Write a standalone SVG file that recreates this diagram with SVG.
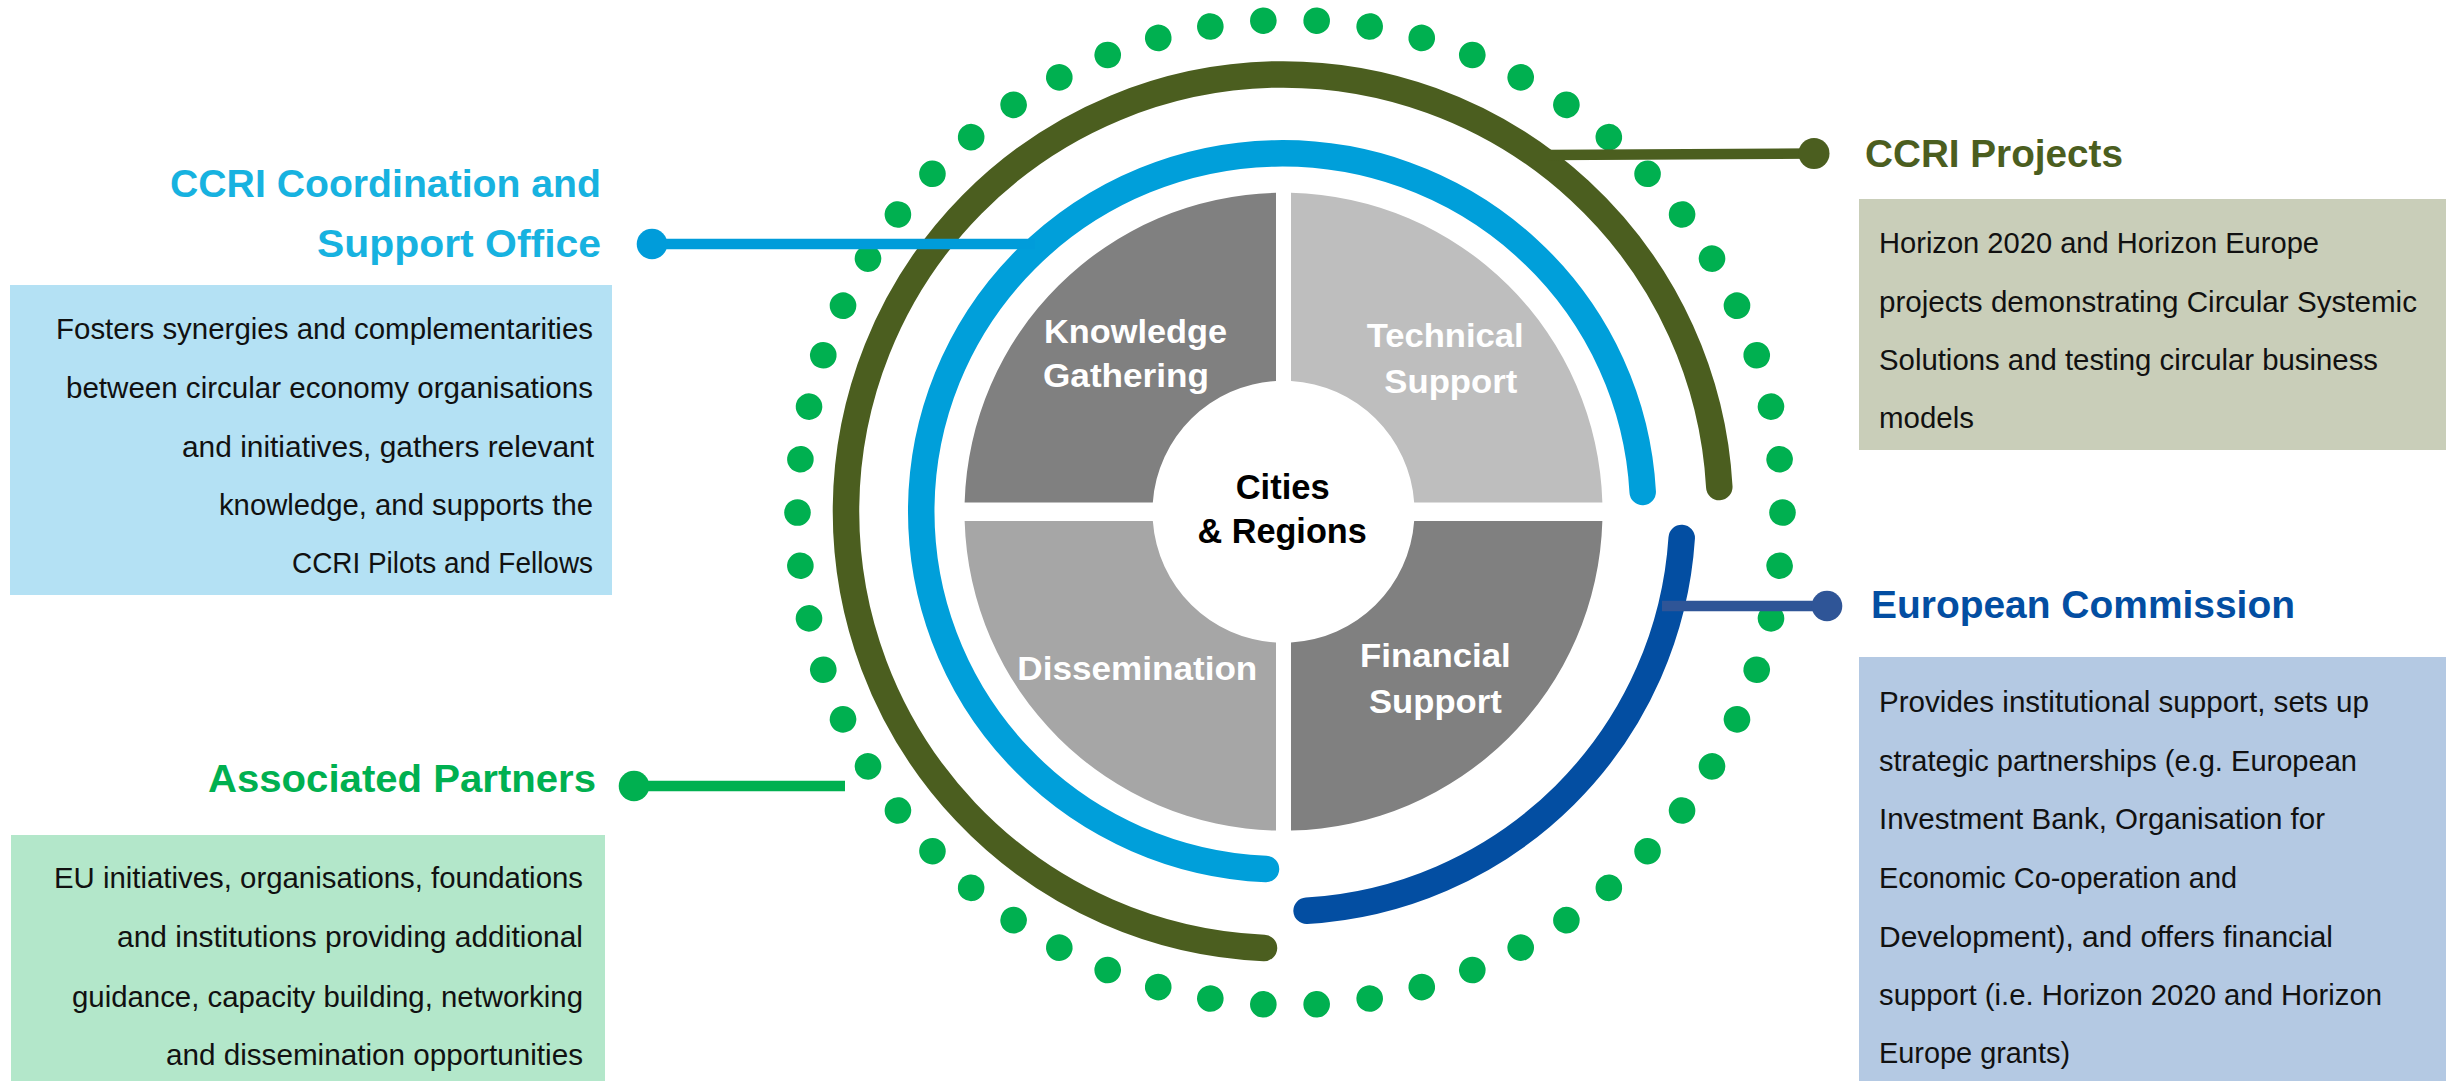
<svg xmlns="http://www.w3.org/2000/svg" xmlns:xlink="http://www.w3.org/1999/xlink" width="2446" height="1081" viewBox="0 0 2446 1081">
<style>
  .body { font-family: "Liberation Sans", Arial, sans-serif; font-size: 29px; fill: #111111; }
  .head { font-family: "Liberation Sans", Arial, sans-serif; font-size: 38px; font-weight: bold; }
  .ql { font-family: "Liberation Sans", Arial, sans-serif; font-size: 34px; font-weight: bold; fill: #ffffff; }
  .ctr { font-family: "Liberation Sans", Arial, sans-serif; font-size: 35px; font-weight: bold; fill: #000000; }
  .ring { fill: none; stroke-linecap: round; stroke-width: 26.5; }
  .conn { stroke-width: 10.5; stroke-linecap: butt; fill: none; }
</style>
<defs>
  <circle id="dot" cx="1782.5" cy="512.5" r="13.3" fill="#00B050"/>
</defs>
<rect x="0" y="0" width="2446" height="1081" fill="#ffffff"/>

<g id="dot-ring">
  <use href="#dot" transform="rotate(0 1290 512.5)"/>
  <use href="#dot" transform="rotate(6.2069 1290 512.5)"/>
  <use href="#dot" transform="rotate(12.4138 1290 512.5)"/>
  <use href="#dot" transform="rotate(18.6207 1290 512.5)"/>
  <use href="#dot" transform="rotate(24.8276 1290 512.5)"/>
  <use href="#dot" transform="rotate(31.0345 1290 512.5)"/>
  <use href="#dot" transform="rotate(37.2414 1290 512.5)"/>
  <use href="#dot" transform="rotate(43.4483 1290 512.5)"/>
  <use href="#dot" transform="rotate(49.6552 1290 512.5)"/>
  <use href="#dot" transform="rotate(55.8621 1290 512.5)"/>
  <use href="#dot" transform="rotate(62.0690 1290 512.5)"/>
  <use href="#dot" transform="rotate(68.2759 1290 512.5)"/>
  <use href="#dot" transform="rotate(74.4828 1290 512.5)"/>
  <use href="#dot" transform="rotate(80.6897 1290 512.5)"/>
  <use href="#dot" transform="rotate(86.8966 1290 512.5)"/>
  <use href="#dot" transform="rotate(93.1034 1290 512.5)"/>
  <use href="#dot" transform="rotate(99.3103 1290 512.5)"/>
  <use href="#dot" transform="rotate(105.5172 1290 512.5)"/>
  <use href="#dot" transform="rotate(111.7241 1290 512.5)"/>
  <use href="#dot" transform="rotate(117.9310 1290 512.5)"/>
  <use href="#dot" transform="rotate(124.1379 1290 512.5)"/>
  <use href="#dot" transform="rotate(130.3448 1290 512.5)"/>
  <use href="#dot" transform="rotate(136.5517 1290 512.5)"/>
  <use href="#dot" transform="rotate(142.7586 1290 512.5)"/>
  <use href="#dot" transform="rotate(148.9655 1290 512.5)"/>
  <use href="#dot" transform="rotate(155.1724 1290 512.5)"/>
  <use href="#dot" transform="rotate(161.3793 1290 512.5)"/>
  <use href="#dot" transform="rotate(167.5862 1290 512.5)"/>
  <use href="#dot" transform="rotate(173.7931 1290 512.5)"/>
  <use href="#dot" transform="rotate(180 1290 512.5)"/>
  <use href="#dot" transform="rotate(186.2069 1290 512.5)"/>
  <use href="#dot" transform="rotate(192.4138 1290 512.5)"/>
  <use href="#dot" transform="rotate(198.6207 1290 512.5)"/>
  <use href="#dot" transform="rotate(204.8276 1290 512.5)"/>
  <use href="#dot" transform="rotate(211.0345 1290 512.5)"/>
  <use href="#dot" transform="rotate(217.2414 1290 512.5)"/>
  <use href="#dot" transform="rotate(223.4483 1290 512.5)"/>
  <use href="#dot" transform="rotate(229.6552 1290 512.5)"/>
  <use href="#dot" transform="rotate(235.8621 1290 512.5)"/>
  <use href="#dot" transform="rotate(242.0690 1290 512.5)"/>
  <use href="#dot" transform="rotate(248.2759 1290 512.5)"/>
  <use href="#dot" transform="rotate(254.4828 1290 512.5)"/>
  <use href="#dot" transform="rotate(260.6897 1290 512.5)"/>
  <use href="#dot" transform="rotate(266.8966 1290 512.5)"/>
  <use href="#dot" transform="rotate(273.1034 1290 512.5)"/>
  <use href="#dot" transform="rotate(279.3103 1290 512.5)"/>
  <use href="#dot" transform="rotate(285.5172 1290 512.5)"/>
  <use href="#dot" transform="rotate(291.7241 1290 512.5)"/>
  <use href="#dot" transform="rotate(297.9310 1290 512.5)"/>
  <use href="#dot" transform="rotate(304.1379 1290 512.5)"/>
  <use href="#dot" transform="rotate(310.3448 1290 512.5)"/>
  <use href="#dot" transform="rotate(316.5517 1290 512.5)"/>
  <use href="#dot" transform="rotate(322.7586 1290 512.5)"/>
  <use href="#dot" transform="rotate(328.9655 1290 512.5)"/>
  <use href="#dot" transform="rotate(335.1724 1290 512.5)"/>
  <use href="#dot" transform="rotate(341.3793 1290 512.5)"/>
  <use href="#dot" transform="rotate(347.5862 1290 512.5)"/>
  <use href="#dot" transform="rotate(353.7931 1290 512.5)"/>
</g>

<g id="ring-projects">
  <path class="ring" stroke="#4B5E1F" d="M 1264 948 A 437 437 0 1 1 1719.3 487"/>
</g>
<g id="ring-support-office">
  <path class="ring" stroke="#009FDA" d="M 1266 869 A 361 358 0 1 1 1642.7 492"/>
</g>
<g id="ring-commission">
  <path class="ring" stroke="#034EA2" d="M 1681.7 538 A 399.5 399.5 0 0 1 1306.6 910.7"/>
</g>

<g id="quadrant-knowledge">
  <path fill="#808080" d="M 964.64 502.4 A 319 319 0 0 1 1276 192.79 L 1276 380.91 A 131 131 0 0 0 1152.83 502.4 Z"/>
  <text class="ql" x="1044" y="343.3" textLength="183" lengthAdjust="spacingAndGlyphs">Knowledge</text>
  <text class="ql" x="1043" y="387.3" textLength="166" lengthAdjust="spacingAndGlyphs">Gathering</text>
</g>
<g id="quadrant-technical">
  <path fill="#BEBEBE" d="M 1291 192.79 A 319 319 0 0 1 1602.36 502.4 L 1414.17 502.4 A 131 131 0 0 0 1291 380.91 Z"/>
  <text class="ql" x="1366.7" y="347.3" textLength="157" lengthAdjust="spacingAndGlyphs">Technical</text>
  <text class="ql" x="1384.3" y="393.3" textLength="133" lengthAdjust="spacingAndGlyphs">Support</text>
</g>
<g id="quadrant-dissemination">
  <path fill="#A6A6A6" d="M 964.64 521 A 319 319 0 0 0 1276 830.61 L 1276 642.49 A 131 131 0 0 1 1152.83 521 Z"/>
  <text class="ql" x="1017.3" y="680" textLength="240" lengthAdjust="spacingAndGlyphs">Dissemination</text>
</g>
<g id="quadrant-financial">
  <path fill="#808080" d="M 1602.36 521 A 319 319 0 0 1 1291 830.61 L 1291 642.49 A 131 131 0 0 0 1414.17 521 Z"/>
  <text class="ql" x="1360" y="667.3" textLength="150.7" lengthAdjust="spacingAndGlyphs">Financial</text>
  <text class="ql" x="1369" y="713.3" textLength="132.7" lengthAdjust="spacingAndGlyphs">Support</text>
</g>
<g id="center">
  <text class="ctr" x="1235.7" y="498.5" textLength="94" lengthAdjust="spacingAndGlyphs">Cities</text>
  <text class="ctr" x="1197.4" y="543" textLength="169.4" lengthAdjust="spacingAndGlyphs">&amp; Regions</text>
</g>

<g id="connectors">
  <line class="conn" stroke="#009CDA" x1="652" y1="244" x2="1035" y2="244"/>
  <circle cx="652" cy="244" r="15.3" fill="#009CDA"/>
  <line class="conn" stroke="#4B5E1F" x1="1548" y1="155" x2="1814" y2="153.5" stroke-width="11"/>
  <circle cx="1814" cy="153.5" r="15.5" fill="#4B5E1F"/>
  <line class="conn" stroke="#2F5597" x1="1662" y1="606" x2="1827" y2="606"/>
  <circle cx="1827" cy="606" r="15.3" fill="#2F5597"/>
  <line class="conn" stroke="#00B050" x1="634" y1="786" x2="845" y2="786"/>
  <circle cx="634" cy="786" r="15.3" fill="#00B050"/>
</g>

<g id="node-support-office">
  <text class="head" fill="#17B2E0" text-anchor="end" x="601" y="197.3" textLength="431" lengthAdjust="spacingAndGlyphs">CCRI Coordination and</text>
  <text class="head" fill="#17B2E0" text-anchor="end" x="601" y="256.7" textLength="284" lengthAdjust="spacingAndGlyphs">Support Office</text>
  <rect x="10" y="285" width="602" height="310" fill="#B4E1F4"/>
  <text class="body" text-anchor="end" x="593" y="339.3" textLength="537" lengthAdjust="spacingAndGlyphs">Fosters synergies and complementarities</text>
  <text class="body" text-anchor="end" x="593" y="398.3" textLength="527" lengthAdjust="spacingAndGlyphs">between circular economy organisations</text>
  <text class="body" text-anchor="end" x="594" y="456.5" textLength="412" lengthAdjust="spacingAndGlyphs">and initiatives, gathers relevant</text>
  <text class="body" text-anchor="end" x="593" y="515" textLength="374" lengthAdjust="spacingAndGlyphs">knowledge, and supports the</text>
  <text class="body" text-anchor="end" x="593" y="573.3" textLength="301" lengthAdjust="spacingAndGlyphs">CCRI Pilots and Fellows</text>
</g>

<g id="node-associated-partners">
  <text class="head" fill="#00B050" text-anchor="end" x="596" y="792" textLength="388" lengthAdjust="spacingAndGlyphs">Associated Partners</text>
  <rect x="11" y="835" width="594" height="246" fill="#B3E7CA"/>
  <text class="body" text-anchor="end" x="583" y="888.3" textLength="529" lengthAdjust="spacingAndGlyphs">EU initiatives, organisations, foundations</text>
  <text class="body" text-anchor="end" x="583" y="947.3" textLength="466" lengthAdjust="spacingAndGlyphs">and institutions providing additional</text>
  <text class="body" text-anchor="end" x="583" y="1006.7" textLength="511" lengthAdjust="spacingAndGlyphs">guidance, capacity building, networking</text>
  <text class="body" text-anchor="end" x="583" y="1065" textLength="417" lengthAdjust="spacingAndGlyphs">and dissemination opportunities</text>
</g>

<g id="node-ccri-projects">
  <text class="head" fill="#4B5E1F" x="1865" y="167" textLength="258" lengthAdjust="spacingAndGlyphs">CCRI Projects</text>
  <rect x="1859" y="199" width="587" height="251" fill="#C9CEB9"/>
  <text class="body" x="1879" y="252.7" textLength="440" lengthAdjust="spacingAndGlyphs">Horizon 2020 and Horizon Europe</text>
  <text class="body" x="1879" y="311.7" textLength="538" lengthAdjust="spacingAndGlyphs">projects demonstrating Circular Systemic</text>
  <text class="body" x="1879" y="370" textLength="499" lengthAdjust="spacingAndGlyphs">Solutions and testing circular business</text>
  <text class="body" x="1879" y="428.3" textLength="95" lengthAdjust="spacingAndGlyphs">models</text>
</g>

<g id="node-european-commission">
  <text class="head" fill="#034EA2" x="1871" y="618.3" textLength="424" lengthAdjust="spacingAndGlyphs">European Commission</text>
  <rect x="1859" y="657" width="587" height="424" fill="#B4C9E3"/>
  <text class="body" x="1879" y="712" textLength="490" lengthAdjust="spacingAndGlyphs">Provides institutional support, sets up</text>
  <text class="body" x="1879" y="771" textLength="478" lengthAdjust="spacingAndGlyphs">strategic partnerships (e.g. European</text>
  <text class="body" x="1879" y="829" textLength="446" lengthAdjust="spacingAndGlyphs">Investment Bank, Organisation for</text>
  <text class="body" x="1879" y="888" textLength="358" lengthAdjust="spacingAndGlyphs">Economic Co-operation and</text>
  <text class="body" x="1879" y="947" textLength="454" lengthAdjust="spacingAndGlyphs">Development), and offers financial</text>
  <text class="body" x="1879" y="1005" textLength="503" lengthAdjust="spacingAndGlyphs">support (i.e. Horizon 2020 and Horizon</text>
  <text class="body" x="1879" y="1063" textLength="191" lengthAdjust="spacingAndGlyphs">Europe grants)</text>
</g>
</svg>
